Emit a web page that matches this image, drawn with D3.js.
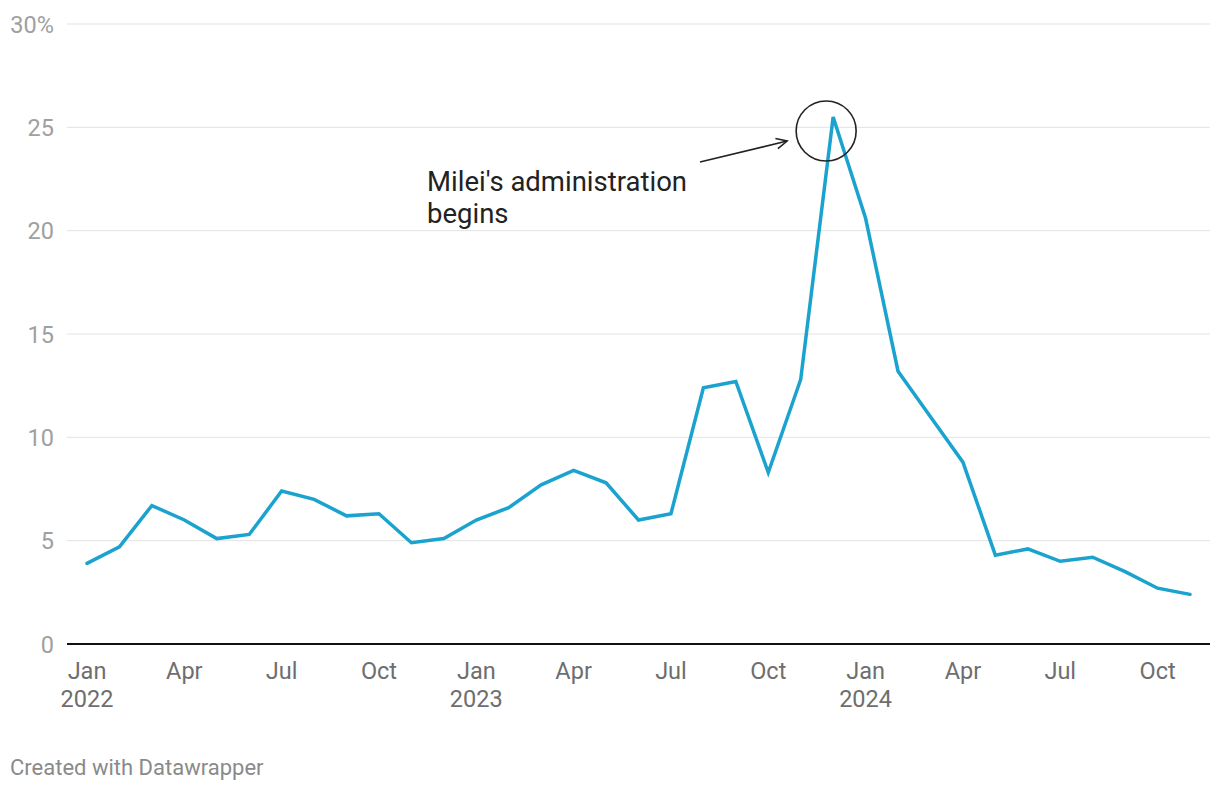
<!DOCTYPE html>
<html>
<head>
<meta charset="utf-8">
<script src="https://cdn.jsdelivr.net/npm/d3@7"></script>
<style>
  body { margin: 0; background: #fff; }
  svg { display: block; font-family: Roboto, "Noto Sans", sans-serif; }
</style>
</head>
<body>
<svg id="chart" width="1220" height="790"></svg>
<script>
const months = ["2022-01","2022-02","2022-03","2022-04","2022-05","2022-06","2022-07","2022-08","2022-09","2022-10","2022-11","2022-12",
  "2023-01","2023-02","2023-03","2023-04","2023-05","2023-06","2023-07","2023-08","2023-09","2023-10","2023-11","2023-12",
  "2024-01","2024-02","2024-03","2024-04","2024-05","2024-06","2024-07","2024-08","2024-09","2024-10","2024-11"];
const inflation = [3.9,4.7,6.7,6.0,5.1,5.3,7.4,7.0,6.2,6.3,4.9,5.1,
  6.0,6.6,7.7,8.4,7.8,6.0,6.3,12.4,12.7,8.3,12.8,25.5,
  20.6,13.2,11.0,8.8,4.3,4.6,4.0,4.2,3.5,2.7,2.4];
const yTicks = [0,5,10,15,20,25,30];
const xTickIdx = [0,3,6,9,12,15,18,21,24,27,30,33];
const monthNames = ["Jan","Feb","Mar","Apr","May","Jun","Jul","Aug","Sep","Oct","Nov","Dec"];
const annotationLines = ["Milei's administration","begins"];
const footer = "Created with Datawrapper";

const svg = d3.select("#chart");
const x = d3.scaleLinear().domain([0, months.length - 1]).range([87, 1190]);
const y = d3.scaleLinear().domain([0, 30]).range([644, 24]);

// grid
svg.append("g").selectAll("line").data(yTicks.filter(d => d > 0)).join("line")
  .attr("x1", 67).attr("x2", 1210)
  .attr("y1", d => y(d)).attr("y2", d => y(d))
  .attr("stroke", "#e3e3e3").attr("stroke-width", 1);

// y labels
svg.append("g").selectAll("text").data(yTicks).join("text")
  .attr("x", 54).attr("y", d => y(d) + 8.5)
  .attr("text-anchor", "end")
  .attr("fill", "#a0a0a0").attr("font-size", 23.5)
  .text(d => d === 30 ? "30%" : d);

// baseline
svg.append("line").attr("x1", 67).attr("x2", 1210)
  .attr("y1", y(0)).attr("y2", y(0))
  .attr("stroke", "#111").attr("stroke-width", 2);

// x labels
const xl = svg.append("g").selectAll("g").data(xTickIdx).join("g")
  .attr("transform", d => `translate(${x(d)},0)`);
xl.append("text").attr("y", 679).attr("text-anchor", "middle")
  .attr("fill", "#6e6e6e").attr("font-size", 23.5)
  .text(d => monthNames[+months[d].slice(5) - 1]);
xl.filter(d => months[d].slice(5) === "01").append("text")
  .attr("y", 707).attr("text-anchor", "middle")
  .attr("fill", "#6e6e6e").attr("font-size", 23.5)
  .text(d => months[d].slice(0, 4));

// line
const line = d3.line().x((d, i) => x(i)).y(d => y(d));
svg.append("path").datum(inflation)
  .attr("d", line).attr("fill", "none")
  .attr("stroke", "#1aa3ce").attr("stroke-width", 3.5)
  .attr("stroke-linejoin", "miter").attr("stroke-linecap", "round");

// annotation
const peakI = inflation.indexOf(d3.max(inflation));
const cx = x(peakI) - 7, cy = y(inflation[peakI]) + 14;
svg.append("circle").attr("cx", cx).attr("cy", cy).attr("r", 30)
  .attr("fill", "none").attr("stroke", "#222").attr("stroke-width", 1.6);
const ax = cx - 39, ay = cy + 10;
svg.append("line").attr("x1", 700).attr("y1", 162).attr("x2", ax).attr("y2", ay)
  .attr("stroke", "#222").attr("stroke-width", 1.6);
const ang = Math.atan2(ay - 162, ax - 700);
const hl = 12;
svg.append("path")
  .attr("d", `M${ax - hl*Math.cos(ang - 0.45)},${ay - hl*Math.sin(ang - 0.45)} L${ax},${ay} L${ax - hl*Math.cos(ang + 0.45)},${ay - hl*Math.sin(ang + 0.45)}`)
  .attr("fill", "none").attr("stroke", "#222").attr("stroke-width", 1.6);
svg.append("g").selectAll("text").data(annotationLines).join("text")
  .attr("x", 427).attr("y", (d, i) => 191 + i * 32)
  .attr("fill", "#222").attr("font-size", 27.5)
  .text(d => d);

// footer
svg.append("text").attr("x", 10).attr("y", 775)
  .attr("fill", "#8a8a8a").attr("font-size", 22)
  .text(footer);
</script>
</body>
</html>
